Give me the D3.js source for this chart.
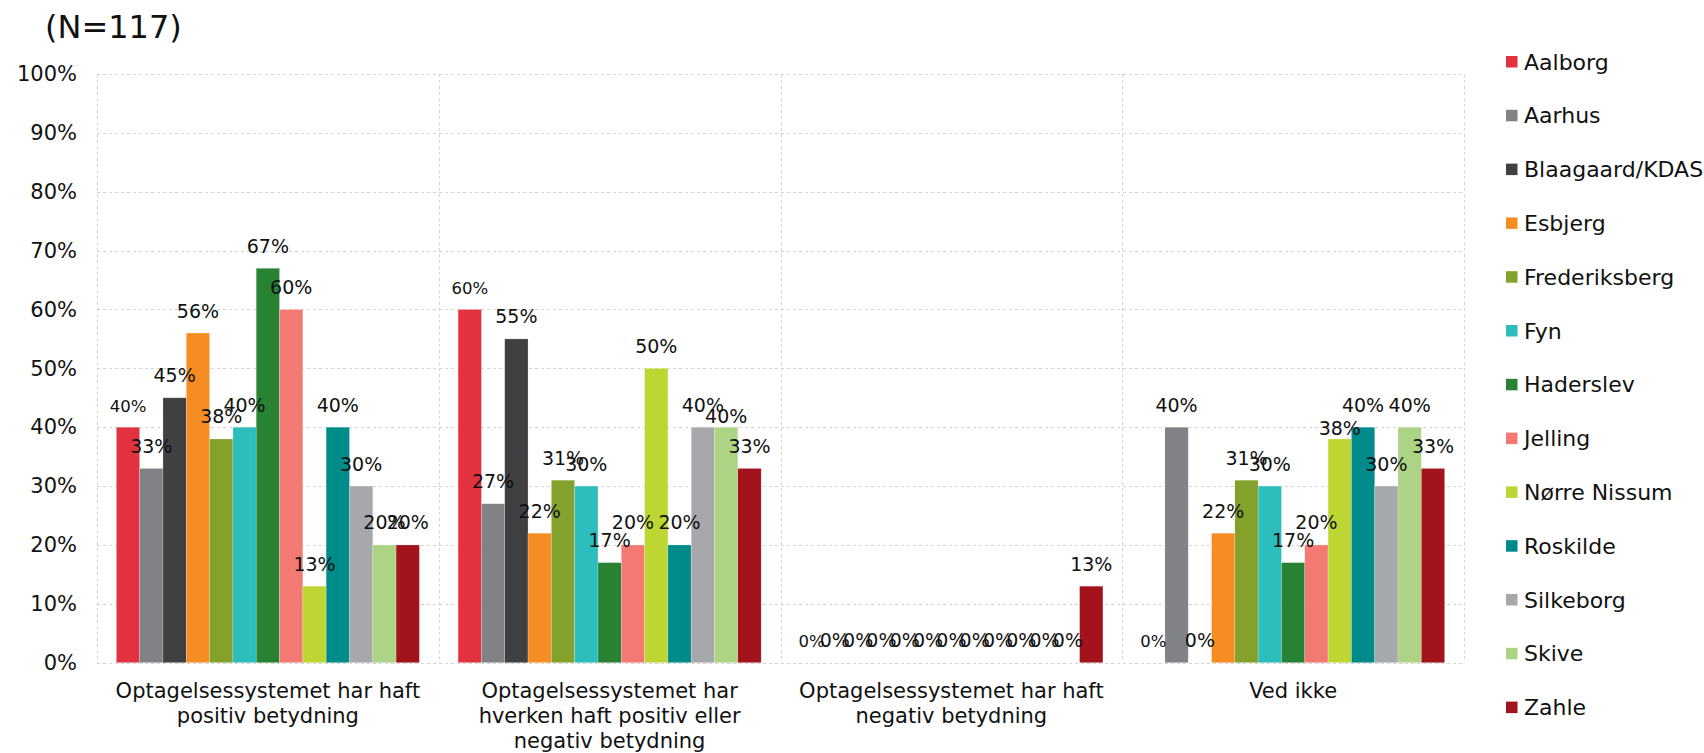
<!DOCTYPE html>
<html>
<head>
<meta charset="utf-8">
<script src="https://cdn.jsdelivr.net/npm/d3@7"></script>
<style>
  html, body { margin: 0; padding: 0; background: #fff; }
  svg { display: block; font-family: "DejaVu Sans", Verdana, sans-serif; }
</style>
</head>
<body>
<svg id="chart" width="1704" height="753"></svg>
<script>
const title = "(N=117)";
const categories = [
  ["Optagelsessystemet har haft", "positiv betydning"],
  ["Optagelsessystemet har", "hverken haft positiv eller", "negativ betydning"],
  ["Optagelsessystemet har haft", "negativ betydning"],
  ["Ved ikke"]
];
const seriesNames = ["Aalborg", "Aarhus", "Blaagaard/KDAS", "Esbjerg", "Frederiksberg", "Fyn", "Haderslev", "Jelling", "Nørre Nissum", "Roskilde", "Silkeborg", "Skive", "Zahle"];
const seriesColors = ["#E3323F", "#808285", "#404042", "#F68D22", "#84A12B", "#2CBDBC", "#288234", "#F37A73", "#BDD631", "#008B8B", "#A7A8AC", "#ADD384", "#A3131C"];
// values per series, one per category (percent)
const aalborg       = [40, 60, 0, 0];
const aarhus        = [33, 27, 0, 40];
const blaagaard     = [45, 55, 0, 0];
const esbjerg       = [56, 22, 0, 22];
const frederiksberg = [38, 31, 0, 31];
const fyn           = [40, 30, 0, 30];
const haderslev     = [67, 17, 0, 17];
const jelling       = [60, 20, 0, 20];
const norreNissum   = [13, 50, 0, 38];
const roskilde      = [40, 20, 0, 40];
const silkeborg     = [30, 40, 0, 30];
const skive         = [20, 40, 0, 40];
const zahle         = [20, 33, 13, 33];
const seriesValues = [aalborg, aarhus, blaagaard, esbjerg, frederiksberg, fyn, haderslev, jelling, norreNissum, roskilde, silkeborg, skive, zahle];
const yTicks = [0, 10, 20, 30, 40, 50, 60, 70, 80, 90, 100];

const svg = d3.select("#chart");
const plot = { left: 97, right: 1464, top: 74, bottom: 662.7 };

const x0 = d3.scaleBand().domain(d3.range(categories.length)).range([plot.left, plot.right]).padding(0);
const x1 = d3.scaleBand().domain(d3.range(seriesNames.length)).range([0, x0.bandwidth()]).paddingInner(0).paddingOuter(0.83);
const y = d3.scaleLinear().domain([0, 100]).range([plot.bottom, plot.top]);

// Title
svg.append("text").attr("x", 45).attr("y", 38).attr("font-size", 32).attr("fill", "#111").text(title);

// Gridlines
const grid = svg.append("g");
grid.selectAll("line.h").data(yTicks).join("line")
  .attr("x1", plot.left).attr("x2", plot.right)
  .attr("y1", d => Math.round(y(d)) + 0.5).attr("y2", d => Math.round(y(d)) + 0.5)
  .attr("stroke", "#d4d4d4").attr("stroke-dasharray", "3,3").attr("stroke-width", 1);
const vlines = d3.range(categories.length + 1).map(i => i < categories.length ? x0(i) : plot.right);
grid.selectAll("line.v").data(vlines).join("line")
  .attr("x1", d => Math.round(d) + 0.5).attr("x2", d => Math.round(d) + 0.5)
  .attr("y1", plot.top).attr("y2", plot.bottom)
  .attr("stroke", "#d4d4d4").attr("stroke-dasharray", "3,3").attr("stroke-width", 1);

// Y axis labels
const yAxis = d3.axisLeft(y).tickValues(yTicks).tickFormat(d => d + "%").tickSize(0).tickPadding(0);
const yg = svg.append("g").attr("transform", `translate(${plot.left - 20},0)`).call(yAxis);
yg.select(".domain").remove();
yg.selectAll("text").attr("font-size", 21).attr("fill", "#111").attr("font-family", "DejaVu Sans, Verdana, sans-serif");

// Label placement tweaks (layout only): Excel nudged two labels downward to reduce overlap
const labelNudge = { "1-11": 11, "3-8": 12 };

// Bars
const groups = svg.append("g").selectAll("g").data(categories).join("g")
  .attr("transform", (d, i) => `translate(${x0(i)},0)`);
groups.each(function(cat, ci) {
  const g = d3.select(this);
  const data = seriesNames.map((name, si) => ({ ci, si, v: seriesValues[si][ci] }));
  g.selectAll("rect").data(data).join("rect")
    .attr("x", d => x1(d.si))
    .attr("width", x1.bandwidth())
    .attr("y", d => y(d.v))
    .attr("height", d => y(0) - y(d.v))
    .attr("fill", d => seriesColors[d.si])
    .attr("stroke", "rgba(255,255,255,0.35)").attr("stroke-width", 0.6);
  g.selectAll("text").data(data).join("text")
    .attr("x", d => x1(d.si) + x1.bandwidth() / 2)
    .attr("y", d => y(d.v) - 15.5 + (labelNudge[d.ci + "-" + d.si] || 0))
    .attr("text-anchor", "middle")
    .attr("font-size", d => d.si === 0 ? 16.5 : 19)
    .attr("fill", "#111")
    .text(d => d.v + "%");
});

// Category labels
const xg = svg.append("g");
categories.forEach((lines, ci) => {
  const t = xg.append("text")
    .attr("x", x0(ci) + x0.bandwidth() / 2)
    .attr("y", 697.5)
    .attr("text-anchor", "middle")
    .attr("font-size", 21).attr("fill", "#111");
  lines.forEach((ln, li) => {
    t.append("tspan").attr("x", x0(ci) + x0.bandwidth() / 2).attr("dy", li === 0 ? 0 : 25).text(ln);
  });
});

// Legend
const legend = svg.append("g").selectAll("g").data(seriesNames).join("g")
  .attr("transform", (d, i) => `translate(1506, ${62 + i * 53.8})`);
legend.append("rect").attr("x", 0).attr("y", -6).attr("width", 11.5).attr("height", 11.5)
  .attr("fill", (d, i) => seriesColors[i]);
legend.append("text").attr("x", 18).attr("y", 7.5).attr("font-size", 22).attr("fill", "#111").text(d => d);
</script>
</body>
</html>
